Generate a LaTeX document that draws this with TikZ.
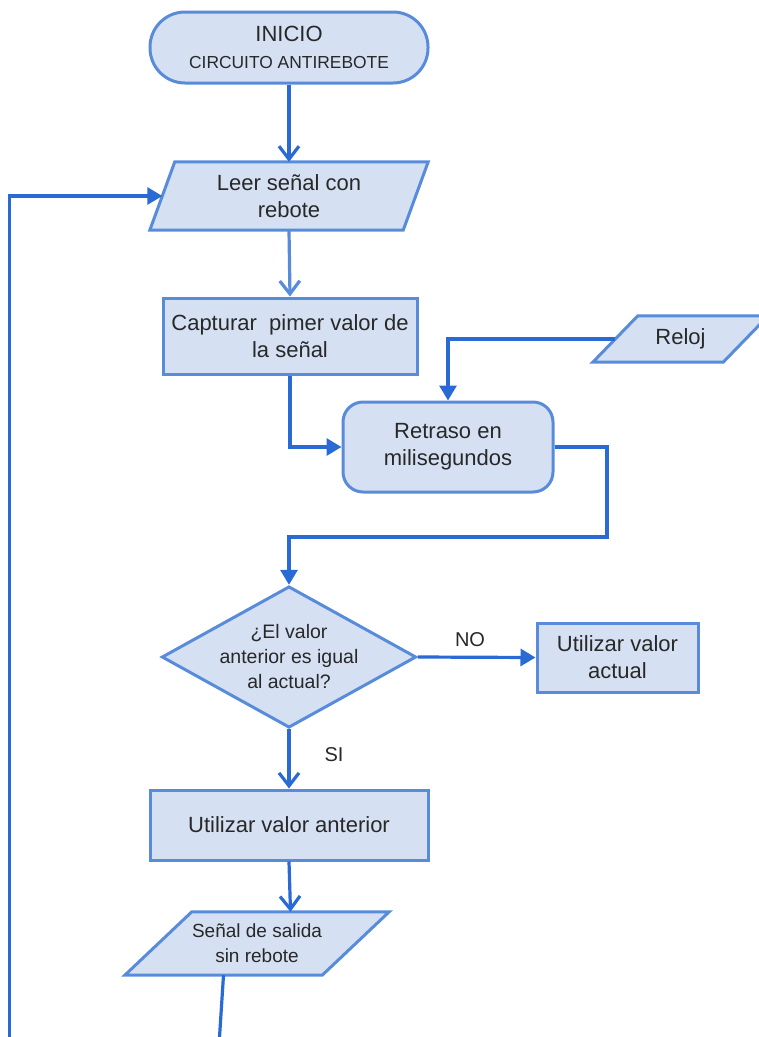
\documentclass[tikz,border=0pt]{standalone}
\usepackage{fontspec}
\setmainfont{Liberation Sans}
\usetikzlibrary{shapes.geometric,arrows.meta,calc}
\pgfdeclarelayer{background}
\pgfsetlayers{background,main}
\definecolor{boxfill}{RGB}{213,225,243}
\definecolor{boxline}{RGB}{88,140,218}
\definecolor{flowline}{RGB}{42,106,212}
\definecolor{inktext}{RGB}{40,40,40}
\begin{document}
\begin{tikzpicture}[x=1pt,y=-1pt,
  every node/.style={text=inktext, font=\fontsize{22}{27}\selectfont, align=center, inner sep=0pt},
  block/.style={draw=boxline, fill=boxfill, line width=3pt},
  procbox/.style={block, rectangle},
  iobox/.style={rectangle},
  flow/.style={draw=flowline, line width=3.2pt, -{Triangle[length=15pt,width=17pt]}},
  openflow/.style={draw=flowline, line width=3.2pt, -{Straight Barb[length=13pt,width=20pt]}},
  plainflow/.style={draw=flowline, line width=3.2pt},
]
\clip (0,0) rectangle (759,1037);

% blocks
\node[procbox, rounded corners=35pt, minimum width=278pt, minimum height=71pt] (inicio) at (289,47.5)
  {INICIO\\{\fontsize{17.4}{26}\selectfont CIRCUITO ANTIREBOTE}};
\node[iobox, minimum width=253pt, minimum height=68pt] (leer) at (289,196)
  {Leer señal con\\rebote};
\node[procbox, minimum width=254pt, minimum height=76pt] (capturar) at (290,336)
  {Capturar \ pimer valor de\\la señal};
\node[iobox, minimum width=130pt, minimum height=46pt] (reloj) at (680.5,339)
  {Reloj};
\node[procbox, rounded corners=20pt, minimum width=210pt, minimum height=90pt] (retraso) at (448,447)
  {Retraso en\\milisegundos};
\node[block, diamond, aspect=1.8, font=\fontsize{19.5}{25}\selectfont, minimum width=252pt, minimum height=139pt] (decision) at (289,657)
  {¿El valor\\anterior es igual\\al actual?};
\node[procbox, minimum width=161pt, minimum height=69pt] (actual) at (617.5,657.5)
  {Utilizar valor\\actual};
\node[procbox, minimum width=278pt, minimum height=70pt] (anterior) at (289,825)
  {Utilizar valor anterior};
\node[iobox, font=\fontsize{19}{25}\selectfont, minimum width=197pt, minimum height=63pt] (salida) at (257,943.5)
  {Señal de salida\\sin rebote};

% input/output parallelograms drawn behind their text
\begin{pgfonlayer}{background}
  \foreach \n/\s in {leer/12.5, reloj/22.5, salida/33.5}
    \draw[block] ($(\n.north west)+(\s,0)$) -- ($(\n.north east)+(\s,0)$)
      -- ($(\n.south east)-(\s,0)$) -- ($(\n.south west)-(\s,0)$) -- cycle;
\end{pgfonlayer}

% branch labels
\node[font=\fontsize{20}{24}\selectfont] (nolabel) at (470,640) {NO};
\node[font=\fontsize{20}{24}\selectfont] (silabel) at (334,755) {SI};

% connectors
\coordinate (bend) at (607,537);
\coordinate (exitS) at (219,1045);
\coordinate (loopL) at (9.5,1045);

\draw[openflow] (inicio.south) -- (leer.north);
\draw[openflow, draw=boxline] (leer.south) -- (capturar.north);
\draw[flow] (capturar.south) |- (retraso.west);
\draw[flow] (reloj.west) -| (retraso.north);
\draw[flow] (retraso.east) -| (bend) -| (decision.north);
\draw[flow] (decision.east) -- (actual.west);
\draw[openflow] (decision.south) -- (anterior.north);
\draw[openflow] (anterior.south) -- ([xshift=33.5pt]salida.north);
\draw[plainflow] ([xshift=-33.5pt]salida.south) -- (exitS);
\draw[flow] (loopL) |- (leer.west);
\end{tikzpicture}
\end{document}
